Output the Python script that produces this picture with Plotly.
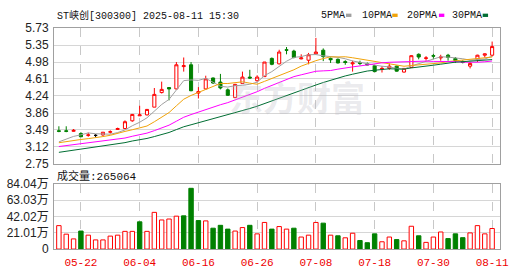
import plotly.graph_objects as go

# ---------------- data ----------------
dates = ["05-19", "05-20", "05-21", "05-22", "05-23", "05-26", "05-27", "05-28", "05-29", "05-30",
         "06-03", "06-04", "06-05", "06-06", "06-09", "06-10", "06-11", "06-12", "06-13", "06-16",
         "06-17", "06-18", "06-19", "06-20", "06-23", "06-24", "06-25", "06-26", "06-27", "06-30",
         "07-01", "07-02", "07-03", "07-04", "07-07", "07-08", "07-09", "07-10", "07-11", "07-14",
         "07-15", "07-16", "07-17", "07-18", "07-21", "07-22", "07-23", "07-24", "07-25", "07-28",
         "07-29", "07-30", "07-31", "08-01", "08-04", "08-05", "08-06", "08-07", "08-08", "08-11"]

opens = [3.47, 3.47, 3.46, 3.41, 3.37, 3.37, 3.38, 3.44, 3.50, 3.52,
         3.69, 3.80, 3.82, 3.99, 4.31, 4.42, 4.39, 4.88, 4.92, 4.30,
         4.39, 4.63, 4.54, 4.37, 4.20, 4.51, 4.65, 4.57, 4.66, 5.06,
         4.94, 5.25, 5.22, 5.05, 5.02, 5.16, 5.24, 5.06, 5.04, 4.99,
         4.94, 4.97, 4.94, 4.90, 4.82, 4.84, 4.89, 4.76, 4.86, 5.15,
         5.06, 5.12, 5.07, 5.13, 5.06, 4.99, 4.89, 5.04, 5.13, 5.13]
closes = [3.46, 3.46, 3.48, 3.34, 3.38, 3.37, 3.44, 3.45, 3.52, 3.67,
          3.83, 3.82, 3.94, 4.27, 4.38, 4.39, 4.92, 4.90, 4.35, 4.33,
          4.61, 4.52, 4.41, 4.25, 4.49, 4.65, 4.63, 4.65, 4.98, 4.93,
          5.20, 5.24, 5.08, 5.07, 5.14, 5.20, 5.10, 5.03, 4.96, 4.97,
          4.96, 4.95, 4.92, 4.77, 4.84, 4.89, 4.78, 4.84, 5.12, 5.09,
          5.07, 5.11, 5.09, 5.08, 5.01, 4.97, 4.95, 5.13, 5.16, 5.32]
highs = [3.57, 3.57, 3.51, 3.44, 3.43, 3.40, 3.44, 3.48, 3.54, 3.70,
         3.84, 4.02, 3.95, 4.41, 4.55, 4.43, 4.98, 5.08, 4.98, 4.43,
         4.68, 4.64, 4.72, 4.40, 4.50, 4.77, 4.81, 4.69, 4.98, 5.08,
         5.25, 5.31, 5.25, 5.15, 5.18, 5.51, 5.28, 5.08, 5.06, 5.02,
         5.01, 5.01, 4.97, 4.91, 4.89, 4.95, 4.90, 4.85, 5.13, 5.17,
         5.11, 5.16, 5.14, 5.16, 5.09, 5.02, 4.98, 5.14, 5.17, 5.43]
lows = [3.44, 3.44, 3.45, 3.34, 3.34, 3.33, 3.36, 3.41, 3.49, 3.51,
        3.67, 3.80, 3.81, 3.99, 4.29, 4.14, 4.38, 4.77, 4.34, 4.18,
        4.38, 4.50, 4.38, 4.24, 4.19, 4.50, 4.61, 4.55, 4.66, 4.91,
        4.93, 5.15, 5.06, 5.04, 4.93, 5.15, 5.00, 4.96, 4.95, 4.92,
        4.77, 4.91, 4.91, 4.76, 4.75, 4.81, 4.77, 4.75, 4.85, 5.04,
        5.01, 5.04, 5.01, 5.01, 4.96, 4.95, 4.84, 4.98, 5.08, 5.10]

ma5 = [3.228, 3.286, 3.348, 3.382, 3.424, 3.406, 3.402, 3.396, 3.432, 3.490,
       3.582, 3.658, 3.756, 3.906, 4.048, 4.160, 4.380, 4.572, 4.588, 4.578,
       4.622, 4.542, 4.448, 4.430, 4.462, 4.470, 4.492, 4.538, 4.682, 4.770,
       4.876, 4.998, 5.082, 5.100, 5.140, 5.144, 5.116, 5.106, 5.084, 5.052,
       5.004, 4.974, 4.952, 4.914, 4.888, 4.874, 4.840, 4.824, 4.894, 4.944,
       4.980, 5.046, 5.096, 5.088, 5.072, 5.052, 5.022, 5.030, 5.046, 5.108]
ma10 = [3.209, 3.236, 3.265, 3.280, 3.299, 3.317, 3.344, 3.372, 3.407, 3.457,
        3.494, 3.530, 3.576, 3.669, 3.769, 3.871, 4.019, 4.164, 4.247, 4.313,
        4.391, 4.461, 4.510, 4.509, 4.520, 4.546, 4.517, 4.493, 4.556, 4.616,
        4.673, 4.745, 4.810, 4.891, 4.955, 5.010, 5.057, 5.094, 5.092, 5.096,
        5.074, 5.045, 5.029, 4.999, 4.970, 4.939, 4.907, 4.888, 4.904, 4.916,
        4.927, 4.943, 4.960, 4.991, 5.008, 5.016, 5.034, 5.063, 5.067, 5.090]
ma20 = [3.125, 3.146, 3.168, 3.183, 3.200, 3.216, 3.236, 3.256, 3.280, 3.312,
        3.351, 3.383, 3.420, 3.474, 3.534, 3.594, 3.681, 3.768, 3.827, 3.885,
        3.943, 3.996, 4.043, 4.089, 4.145, 4.209, 4.268, 4.329, 4.402, 4.465,
        4.532, 4.603, 4.660, 4.700, 4.738, 4.778, 4.787, 4.794, 4.824, 4.856,
        4.874, 4.895, 4.920, 4.945, 4.963, 4.975, 4.982, 4.991, 4.998, 5.006,
        5.001, 4.994, 4.995, 4.995, 4.989, 4.978, 4.971, 4.976, 4.986, 5.003]
ma30 = [2.998, 3.022, 3.046, 3.066, 3.087, 3.108, 3.131, 3.154, 3.180, 3.211,
        3.247, 3.273, 3.303, 3.344, 3.389, 3.434, 3.497, 3.559, 3.603, 3.646,
        3.698, 3.742, 3.783, 3.819, 3.862, 3.911, 3.960, 4.010, 4.070, 4.129,
        4.186, 4.245, 4.299, 4.356, 4.415, 4.476, 4.531, 4.584, 4.632, 4.675,
        4.713, 4.750, 4.783, 4.800, 4.815, 4.832, 4.827, 4.825, 4.851, 4.876,
        4.891, 4.911, 4.933, 4.960, 4.978, 4.988, 4.999, 5.015, 5.021, 5.034]

# volume in 万 (10k shares)
volumes = [30.2, 19.2, 13.1, 23.2, 17.9, 11.8, 11.8, 16.7, 17.9, 22.8,
           22.8, 35.1, 22.8, 47.3, 37.5, 38.7, 42.4, 42.8, 78.3, 36.7,
           36.3, 26.9, 30.6, 25.7, 23.2, 27.7, 30.6, 19.6, 34.3, 25.7,
           29.0, 25.7, 26.9, 15.5, 17.9, 34.3, 33.4, 17.9, 17.1, 14.5,
           20.4, 11.0, 8.2, 19.6, 9.4, 15.5, 12.2, 10.6, 29.4, 17.1,
           8.6, 15.5, 22.0, 13.5, 19.6, 14.7, 20.8, 30.2, 19.6, 26.5064]
vol_dir = ["u", "u", "u", "d", "u", "u", "u", "u", "u", "u",
           "u", "d", "u", "u", "u", "u", "u", "d", "d", "d",
           "u", "d", "d", "d", "u", "u", "d", "u", "u", "d",
           "u", "u", "d", "u", "u", "u", "d", "u", "d", "u",
           "u", "d", "d", "d", "u", "u", "d", "u", "u", "d",
           "u", "u", "u", "d", "d", "d", "u", "u", "u", "u"]

x_labels = ["05-22", "06-04", "06-16", "06-26", "07-08", "07-18", "07-30", "08-11"]
price_ticks = ["2.75", "3.12", "3.49", "3.86", "4.24", "4.61", "4.98", "5.35", "5.73"]
vol_ticks = ["0", "21.01万", "42.02万", "63.03万", "84.04万"]
ma_names = ["5PMA", "10PMA", "20PMA", "30PMA"]
stock_title = "ST峡创[300300] 2025-08-11 15:30"

# ---------------- styles ----------------
RED = "#ff0000"
GREEN = "#008000"
MA_COLORS = ["#a0a0a0", "#f0a30a", "#ff00ff", "#006e33"]
FRAME = "#a0a0a0"
GRID = "#d6d6d6"
VGRID = "#c8c8c8"
W, H = 530, 276
XL, XR = 55, 509
P_TOP, P_BOT = 22, 165
V_TOP, V_BOT = 186.3, 255
MONO = "Liberation Mono, Noto Sans CJK SC, monospace"
SANS = "Liberation Sans, Noto Sans CJK SC, Arial, sans-serif"

x = list(range(len(dates)))
tick_idx = [dates.index(t) for t in x_labels]
slot = 7.47
x0 = -(59.9 - XL) / slot
xrange = [x0, x0 + (XR - XL) / slot]

def py(v):
    return 1 - v / H

def px(v):
    return v / W

fig = go.Figure()

# normal candles (open != close) and flat candles (open == close)
norm = [i for i in x if opens[i] != closes[i]]
flat = [i for i in x if opens[i] == closes[i]]

fig.add_trace(go.Candlestick(
    x=[x[i] for i in norm], open=[opens[i] for i in norm], high=[highs[i] for i in norm],
    low=[lows[i] for i in norm], close=[closes[i] for i in norm],
    increasing=dict(line=dict(color=RED, width=1), fillcolor="white"),
    decreasing=dict(line=dict(color=GREEN, width=1), fillcolor=GREEN),
    whiskerwidth=0, showlegend=False, xaxis="x", yaxis="y"))
if flat:
    fig.add_trace(go.Candlestick(
        x=[x[i] for i in flat], open=[opens[i] for i in flat], high=[highs[i] for i in flat],
        low=[lows[i] for i in flat], close=[closes[i] for i in flat],
        increasing=dict(line=dict(color="black", width=1), fillcolor="black"),
        decreasing=dict(line=dict(color="black", width=1), fillcolor="black"),
        whiskerwidth=0, showlegend=False, xaxis="x", yaxis="y"))

for name, series, col in zip(ma_names, [ma5, ma10, ma20, ma30], MA_COLORS):
    fig.add_trace(go.Scatter(x=x, y=series, mode="lines", name=name,
                             line=dict(color=col, width=1), showlegend=False,
                             xaxis="x", yaxis="y"))

fig.add_trace(go.Bar(
    x=x, y=volumes, width=0.6,
    marker=dict(color=["white" if d == "u" else GREEN for d in vol_dir],
                line=dict(color=[RED if d == "u" else GREEN for d in vol_dir], width=1)),
    showlegend=False, xaxis="x2", yaxis="y2"))

axis_common = dict(showline=True, mirror=True, linecolor=FRAME, linewidth=1,
                   zeroline=False, fixedrange=True)

fig.update_layout(
    width=W, height=H, autosize=False,
    margin=dict(l=0, r=0, t=0, b=0),
    paper_bgcolor="white", plot_bgcolor="white",
    boxgap=0.4,
    xaxis=dict(domain=[px(XL), px(XR)], range=xrange, anchor="y",
               tickvals=tick_idx, showticklabels=False, ticks="",
               showgrid=True, gridcolor=VGRID, griddash="dash", gridwidth=1,
               rangeslider=dict(visible=False), **axis_common),
    yaxis=dict(domain=[py(P_BOT), py(P_TOP)], range=[2.75, 5.73], anchor="x",
               tickvals=[float(t) for t in price_ticks], ticktext=price_ticks,
               ticks="", ticklabelstandoff=2,
               tickfont=dict(family=SANS, size=12, color="#222222"),
               showgrid=True, gridcolor=GRID, gridwidth=1, **axis_common),
    xaxis2=dict(domain=[px(XL), px(XR)], range=xrange, anchor="y2",
                tickvals=tick_idx, ticktext=x_labels, ticks="",
                tickfont=dict(family=MONO, size=11, color="#ee0000"),
                ticklabelstandoff=3,
                showgrid=True, gridcolor=VGRID, griddash="dash", gridwidth=1,
                **axis_common),
    yaxis2=dict(domain=[py(V_BOT), py(V_TOP)], range=[0, 84.04], anchor="x2",
                tickvals=[0, 21.01, 42.02, 63.03, 84.04], ticktext=vol_ticks,
                ticks="", ticklabelstandoff=2,
                tickfont=dict(family=SANS, size=12, color="#222222"),
                showgrid=True, gridcolor=GRID, gridwidth=1, **axis_common),
)

ann = []
# title
ann.append(dict(text=stock_title, x=px(56), y=py(9), xref="paper", yref="paper",
                xanchor="left", yanchor="middle", showarrow=False,
                font=dict(family=MONO, size=10, color="#111111")))
# MA legend
legend_x = [325, 366.5, 411.5, 458]
swatch_x = [352, 399, 446.5, 491]
shapes = []
for name, col, lx, sx in zip(ma_names, MA_COLORS, legend_x, swatch_x):
    ann.append(dict(text=name, x=px(lx), y=py(9), xref="paper", yref="paper",
                    xanchor="left", yanchor="middle", showarrow=False,
                    font=dict(family=MONO, size=10, color="#111111")))
    shapes.append(dict(type="rect", xref="paper", yref="paper",
                       x0=px(sx), x1=px(sx + 5.5), y0=py(10.5), y1=py(7),
                       fillcolor=col, line=dict(width=0)))
# volume label
ann.append(dict(text="成交量:" + str(int(round(volumes[-1] * 10000))),
                x=px(56), y=py(178), xref="paper", yref="paper",
                xanchor="left", yanchor="middle", showarrow=False,
                font=dict(family=MONO, size=11, color="#111111")))
# watermark
ann.append(dict(text="<b>东方财富</b>", x=px(373), y=py(94), xref="paper", yref="paper",
                xanchor="right", yanchor="middle", showarrow=False,
                font=dict(family="Noto Sans CJK SC", size=34, color="rgba(185,185,195,0.30)")))

fig.update_layout(annotations=ann, shapes=shapes)

fig.write_html("out.html")
